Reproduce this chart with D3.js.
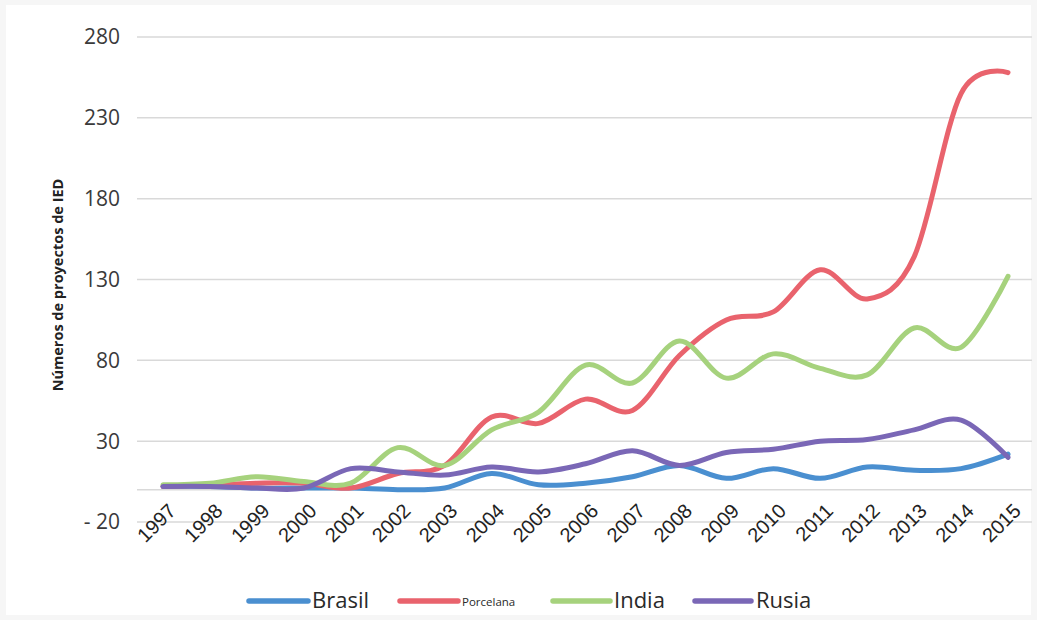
<!DOCTYPE html>
<html><head><meta charset="utf-8">
<script src="https://cdn.jsdelivr.net/npm/d3@7"></script>
<style>
html,body{margin:0;padding:0;background:#f6f6f6;}
svg{display:block;}
</style></head>
<body>
<svg id="chart" width="1037" height="620"></svg>
<script>
const years = ["1997","1998","1999","2000","2001","2002","2003","2004","2005","2006","2007","2008","2009","2010","2011","2012","2013","2014","2015"];
const brasil    = [2, 2, 1, 1, 1, 0, 1, 10, 3, 4, 8, 15, 7, 13, 7, 14, 12, 13, 22];
const porcelana = [2, 3, 4, 4, 1, 10, 15, 45, 41, 56, 49, 83, 105, 110, 136, 118, 144, 245, 258];
const india     = [3, 4, 8, 5, 4, 26, 15, 37, 48, 77, 66, 92, 69, 84, 75, 71, 100, 88, 132];
const rusia     = [2, 2, 1, 1, 13, 11, 9, 14, 11, 16, 24, 15, 23, 25, 30, 31, 37, 43, 20];
const seriesNames = ["Brasil", "Porcelana", "India", "Rusia"];
const seriesColors = ["#4a8fd0", "#e9636d", "#a6d27d", "#7a67b6"];
const yTicks = [-20, 30, 80, 130, 180, 230, 280];
const yLabel = "Números de proyectos de IED";

const svg = d3.select("#chart");
svg.append("rect").attr("x", 6).attr("y", 5).attr("width", 1025).attr("height", 610).attr("fill", "#ffffff");

const x = d3.scalePoint().domain(years).range([163, 1008]);
const y = d3.scaleLinear().domain([-20, 280]).range([522, 37]);

// gridlines
svg.append("g").selectAll("line").data(yTicks.concat([0])).join("line")
  .attr("x1", 137).attr("x2", 1032)
  .attr("y1", d => y(d)).attr("y2", d => y(d))
  .attr("stroke", "#d9d9d9").attr("stroke-width", 1.5);

// y tick labels
svg.append("g").selectAll("text").data(yTicks).join("text")
  .attr("x", 120).attr("y", d => y(d)).attr("dy", "0.35em")
  .attr("text-anchor", "end")
  .attr("font-family", "'Open Sans', 'Noto Sans', sans-serif")
  .attr("font-size", 21).attr("fill", "#3a3a3a")
  .text(d => d < 0 ? "- " + Math.abs(d) : d);

// y axis title
svg.append("text")
  .attr("transform", `translate(63,285) rotate(-90)`)
  .attr("text-anchor", "middle")
  .attr("font-family", "'Open Sans', 'Noto Sans', sans-serif")
  .attr("font-weight", "bold").attr("font-size", 14.5).attr("fill", "#222")
  .text(yLabel);

// x tick labels
svg.append("g").selectAll("text").data(years).join("text")
  .attr("transform", d => `translate(${x(d) + 4},${502}) rotate(-45)`)
  .attr("text-anchor", "end").attr("dy", "0.71em")
  .attr("font-family", "'Liberation Sans', Arial, sans-serif")
  .attr("font-size", 20).attr("fill", "#222")
  .text(d => d);

const all = [brasil, porcelana, india, rusia];
const line = d3.line()
  .x((d, i) => x(years[i]))
  .y(d => y(d))
  .curve(d3.curveCardinal.tension(0));

all.forEach((vals, k) => {
  svg.append("path").datum(vals)
    .attr("d", line)
    .attr("fill", "none")
    .attr("stroke", seriesColors[k])
    .attr("stroke-width", 5)
    .attr("stroke-linecap", "round")
    .attr("stroke-linejoin", "round");
});

// legend
const legendItems = [
  {x1: 249, x2: 308, tx: 312, size: 22},
  {x1: 400, x2: 458, tx: 462, size: 11.5},
  {x1: 553, x2: 610, tx: 614, size: 22},
  {x1: 695, x2: 751, tx: 756, size: 22}
];
const lg = svg.append("g");
seriesNames.forEach((name, k) => {
  const it = legendItems[k];
  lg.append("line").attr("x1", it.x1).attr("x2", it.x2).attr("y1", 601).attr("y2", 601)
    .attr("stroke", seriesColors[k]).attr("stroke-width", 5.5).attr("stroke-linecap", "round");
  lg.append("text").attr("x", it.tx).attr("y", k === 1 ? 606 : 608)
    .attr("font-family", "'Open Sans', 'Noto Sans', sans-serif")
    .attr("font-size", it.size).attr("fill", "#2a2a2a")
    .text(name);
});
</script>
</body></html>
